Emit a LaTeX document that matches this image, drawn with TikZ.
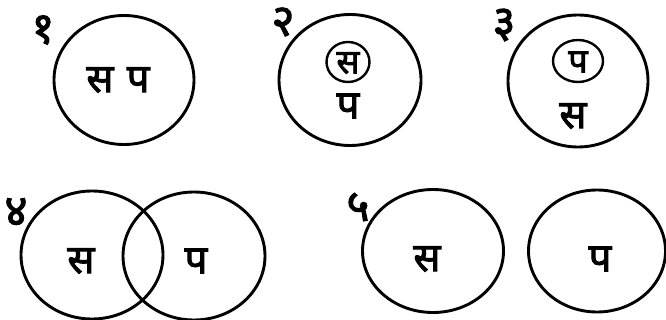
\documentclass[tikz,border=0pt]{standalone}
\usepackage{fontspec}
\newfontfamily\deva[Script=Devanagari,AutoFakeBold=2.5]{Noto Sans}
\usetikzlibrary{shapes.geometric}
\begin{document}
\begin{tikzpicture}[x=1pt,y=-1pt,
  ring/.style={draw=black,line width=2.9pt,ellipse,inner sep=0pt,minimum width=#1},
  lbl/.style={font=\deva\bfseries\fontsize{40}{44}\selectfont,inner sep=0pt},
  small/.style={font=\deva\bfseries\fontsize{34}{36}\selectfont,inner sep=0pt},
  num/.style={font=\deva\bfseries\fontsize{44}{46}\selectfont,inner sep=0pt}]
\useasboundingbox[fill=white] (0,0) rectangle (666,320);
% 1
\node[ring=140pt,minimum height=129pt] (c1) at (124,80) {};
\node[lbl] (t1) at (118,80) {स\,\,प};
\node[num] (n1) at (43,30) {१};
% 2
\node[ring=142pt,minimum height=131pt] (c2) at (350,80) {};
\node[ring=43pt,minimum height=40pt,line width=2.4pt] (i2) at (348,62) {};
\node[small] (s2) at (348,63) {स};
\node[lbl] (p2) at (348,106) {प};
\node[num] (n2) at (283,22) {२};
% 3
\node[ring=140pt,minimum height=132pt] (c3) at (578,81) {};
\node[ring=50pt,minimum height=42pt,line width=2.4pt] (i3) at (578,61) {};
\node[small] (p3) at (578,62) {प};
\node[lbl] (s3) at (573,116) {स};
\node[num] (n3) at (504,25) {३};
% 4
\node[ring=142pt,minimum height=128pt] (c4a) at (92,255) {};
\node[ring=142pt,minimum height=128pt] (c4b) at (194,256) {};
\node[lbl] (s4) at (81,261) {स};
\node[lbl] (p4) at (196,261) {प};
\node[num] (n4) at (16,212) {४};
% 5
\node[ring=141pt,minimum height=123pt] (c5a) at (433,251) {};
\node[ring=137pt,minimum height=122pt] (c5b) at (597,251) {};
\node[lbl] (s5) at (427,259) {स};
\node[lbl] (p5) at (600,259) {प};
\node[num] (n5) at (358,207) {५};
\end{tikzpicture}
\end{document}
